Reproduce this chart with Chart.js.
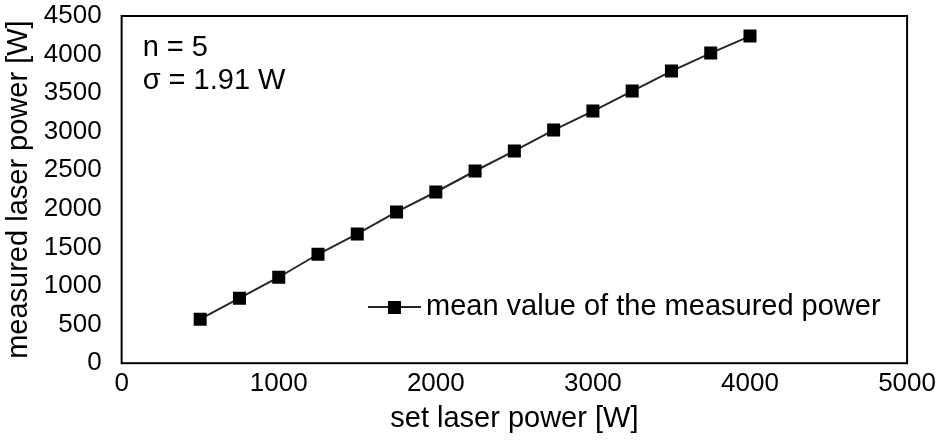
<!DOCTYPE html>
<html>
<head>
<meta charset="utf-8">
<script src="https://cdn.jsdelivr.net/npm/chart.js@4/dist/chart.umd.min.js"></script>
<style>
  html, body { margin: 0; padding: 0; background: #fff; }
  #wrap { width: 940px; height: 443px; }
</style>
</head>
<body>
<div id="wrap"><canvas id="chart"></canvas></div>
<script>
const setPower = [500, 750, 1000, 1250, 1500, 1750, 2000, 2250, 2500, 2750, 3000, 3250, 3500, 3750, 4000];
const measuredPower = [570, 842, 1114, 1412, 1675, 1960, 2219, 2491, 2751, 3022, 3268, 3527, 3786, 4019, 4240];
const seriesName = 'mean value of the measured power';
const noteLines = ['n = 5', 'σ = 1.91 W'];

const FONT = '"Liberation Sans", Arial, sans-serif';

// box around plot, notes and legend inside the plot area
const extras = {
    id: 'extras',
    afterDraw(chart) {
        const ctx = chart.ctx;
        const a = chart.chartArea;
        ctx.save();
        ctx.strokeStyle = '#000';
        ctx.lineWidth = 2;
        ctx.strokeRect(a.left, a.top, a.right - a.left, a.bottom - a.top);

        ctx.fillStyle = '#000';
        ctx.font = '29px ' + FONT;
        ctx.textBaseline = 'middle';
        ctx.textAlign = 'left';
        ctx.fillText(noteLines[0], a.left + 21, 48);
        ctx.fillText(noteLines[1], a.left + 21, 81);

        // legend entry
        const ds = chart.data.datasets[0];
        const ly = 307;
        ctx.strokeStyle = ds.borderColor;
        ctx.lineWidth = 2;
        ctx.beginPath();
        ctx.moveTo(368, ly);
        ctx.lineTo(421, ly);
        ctx.stroke();
        ctx.fillStyle = '#000';
        ctx.fillRect(388, ly - 6, 13, 13);
        ctx.font = '29px ' + FONT;
        ctx.fillText(seriesName, 426, ly);
        ctx.restore();
    }
};

new Chart(document.getElementById('chart'), {
    type: 'line',
    data: {
        datasets: [{
            label: seriesName,
            data: setPower.map((x, i) => ({ x: x, y: measuredPower[i] })),
            borderColor: '#262626',
            borderWidth: 2,
            pointStyle: 'rect',
            pointRadius: 9.2,
            pointBackgroundColor: '#000',
            pointBorderColor: '#000',
            pointBorderWidth: 0,
            tension: 0,
        }]
    },
    options: {
        responsive: true,
        maintainAspectRatio: false,
        animation: false,
        layout: { padding: { top: 16, right: 0, left: 2, bottom: 0 } },
        plugins: {
            legend: { display: false },
            tooltip: { enabled: false },
        },
        scales: {
            x: {
                type: 'linear',
                min: 0,
                max: 5000,
                ticks: { stepSize: 1000, color: '#000', font: { family: FONT, size: 26, lineHeight: 1 }, padding: 4, maxRotation: 0, callback: v => String(v) },
                grid: { display: false, drawTicks: true, tickLength: 4 },
                border: { display: false },
                title: { display: true, text: 'set laser power [W]', color: '#000', font: { family: FONT, size: 29 }, padding: { top: 0, bottom: 7 } },
            },
            y: {
                min: 0,
                max: 4500,
                ticks: { stepSize: 500, color: '#000', font: { family: FONT, size: 26, lineHeight: 1 }, padding: 0, callback: v => String(v) },
                grid: { display: false, drawTicks: true, tickLength: 20 },
                border: { display: false },
                title: { display: true, text: 'measured laser power [W]', color: '#000', font: { family: FONT, size: 29 }, padding: { top: 0, bottom: 7 } },
            }
        }
    },
    plugins: [extras]
});
</script>
</body>
</html>
